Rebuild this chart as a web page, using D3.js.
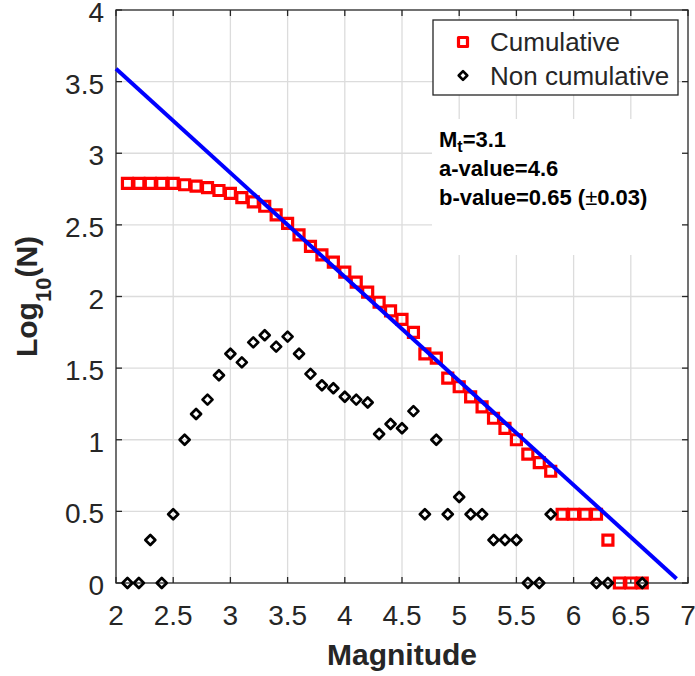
<!DOCTYPE html>
<html>
<head>
<meta charset="utf-8">
<script src="https://cdn.jsdelivr.net/npm/d3@7/dist/d3.min.js"></script>
<style>
  body { margin: 0; background: #fff; }
  svg { display: block; font-family: "Liberation Sans", Arial, Helvetica, sans-serif; }
</style>
</head>
<body>
<svg id="chart" width="695" height="676"></svg>
<script>
// Magnitude bins (Gutenberg-Richter plot)
const cumMag = [2.1, 2.2, 2.3, 2.4, 2.5, 2.6, 2.7, 2.8, 2.9, 3.0, 3.1, 3.2, 3.3, 3.4, 3.5, 3.6,
  3.7, 3.8, 3.9, 4.0, 4.1, 4.2, 4.3, 4.4, 4.5, 4.6, 4.7, 4.8, 4.9, 5.0, 5.1, 5.2, 5.3, 5.4,
  5.5, 5.6, 5.7, 5.8, 5.9, 6.0, 6.1, 6.2, 6.3, 6.4, 6.5, 6.6];
const cumLog = [2.79, 2.79, 2.79, 2.79, 2.79, 2.78, 2.77, 2.76, 2.74, 2.72, 2.69, 2.66, 2.63, 2.57, 2.51, 2.43,
  2.35, 2.29, 2.24, 2.17, 2.10, 2.03, 1.96, 1.90, 1.84, 1.75, 1.60, 1.57, 1.43, 1.37, 1.30, 1.23, 1.15, 1.08,
  1.00, 0.90, 0.84, 0.78, 0.48, 0.48, 0.48, 0.48, 0.30, 0, 0, 0];

const nonCumMag = [2.1, 2.2, 2.3, 2.4, 2.5, 2.6, 2.7, 2.8, 2.9, 3.0, 3.1, 3.2, 3.3, 3.4, 3.5, 3.6,
  3.7, 3.8, 3.9, 4.0, 4.1, 4.2, 4.3, 4.4, 4.5, 4.6, 4.7, 4.8, 4.9, 5.0, 5.1, 5.2, 5.3, 5.4,
  5.5, 5.6, 5.7, 5.8, 6.2, 6.3, 6.6];
const nonCumLog = [0, 0, 0.30, 0, 0.48, 1.00, 1.18, 1.28, 1.45, 1.60, 1.54, 1.68, 1.73, 1.65, 1.72, 1.60,
  1.46, 1.38, 1.36, 1.30, 1.28, 1.26, 1.04, 1.11, 1.08, 1.20, 0.48, 1.00, 0.48, 0.60, 0.48, 0.48, 0.30, 0.30,
  0.30, 0, 0, 0.48, 0, 0, 0];

// Fitted line end points
const fitMag = [2.0, 6.9];
const fitLog = [3.59, 0.03];

const xTicks = [2, 2.5, 3, 3.5, 4, 4.5, 5, 5.5, 6, 6.5, 7];
const yTicks = [0, 0.5, 1, 1.5, 2, 2.5, 3, 3.5, 4];
const legendLabels = ['Cumulative', 'Non cumulative'];

const svg = d3.select('#chart');
const axisColor = '#262626';

const x = d3.scaleLinear().domain([2, 7]).range([116, 688]);
const y = d3.scaleLinear().domain([0, 4]).range([583, 10]);

const [x0, x1] = x.range();
const [y0, y1] = y.range();

// Grid lines
const grid = svg.append('g').attr('stroke', '#dcdcdc').attr('stroke-width', 1.3);
grid.selectAll('.vgrid')
  .data(xTicks.slice(1, -1))
  .enter().append('line')
  .attr('x1', d => x(d)).attr('x2', d => x(d))
  .attr('y1', y0).attr('y2', y1);
grid.selectAll('.hgrid')
  .data(yTicks.slice(1, -1))
  .enter().append('line')
  .attr('x1', x0).attr('x2', x1)
  .attr('y1', d => y(d)).attr('y2', d => y(d));

// White background of the annotation text
svg.append('rect')
  .attr('x', 432).attr('y', 119)
  .attr('width', x1 - 432).attr('height', 136)
  .attr('fill', '#fff');

// Axes box with inward ticks on all four sides
svg.append('rect')
  .attr('x', x0).attr('y', y1)
  .attr('width', x1 - x0).attr('height', y0 - y1)
  .attr('fill', 'none')
  .attr('stroke', axisColor)
  .attr('stroke-width', 1.3);

const tickLen = 6;
const ticks = svg.append('g').attr('stroke', axisColor).attr('stroke-width', 1.3);
xTicks.forEach(t => {
  ticks.append('line').attr('x1', x(t)).attr('x2', x(t)).attr('y1', y0).attr('y2', y0 - tickLen);
  ticks.append('line').attr('x1', x(t)).attr('x2', x(t)).attr('y1', y1).attr('y2', y1 + tickLen);
});
yTicks.forEach(t => {
  ticks.append('line').attr('x1', x0).attr('x2', x0 + tickLen).attr('y1', y(t)).attr('y2', y(t));
  ticks.append('line').attr('x1', x1).attr('x2', x1 - tickLen).attr('y1', y(t)).attr('y2', y(t));
});

// Tick labels
svg.append('g').selectAll('text')
  .data(xTicks)
  .enter().append('text')
  .attr('x', d => x(d))
  .attr('y', 625)
  .attr('text-anchor', 'middle')
  .style('font-size', '28px')
  .attr('fill', axisColor)
  .text(d => d);

svg.append('g').selectAll('text')
  .data(yTicks)
  .enter().append('text')
  .attr('x', 104)
  .attr('y', d => y(d) + 12)
  .attr('text-anchor', 'end')
  .style('font-size', '28px')
  .attr('fill', axisColor)
  .text(d => d);

// Axis labels
svg.append('text')
  .attr('x', (x0 + x1) / 2)
  .attr('y', 665)
  .attr('text-anchor', 'middle')
  .style('font-size', '30px')
  .style('font-weight', 'bold')
  .attr('fill', axisColor)
  .text('Magnitude');

const yLabel = svg.append('text')
  .attr('transform', `translate(37, ${(y0 + y1) / 2}) rotate(-90)`)
  .attr('text-anchor', 'middle')
  .style('font-size', '30px')
  .style('font-weight', 'bold')
  .attr('fill', axisColor);
yLabel.append('tspan').text('Log');
yLabel.append('tspan').attr('dy', 14).style('font-size', '22px').text('10');
yLabel.append('tspan').attr('dy', -14).text('(N)');

// Marker shapes
const squarePath = 'M-5,-5H5V5H-5Z';
const diamondPath = 'M0,-5L5,0L0,5L-5,0Z';

// Cumulative points
svg.append('g').selectAll('path')
  .data(cumMag.map((m, i) => [m, cumLog[i]]))
  .enter().append('path')
  .attr('d', squarePath)
  .attr('transform', d => `translate(${x(d[0])},${y(d[1])})`)
  .attr('fill', 'none')
  .attr('stroke', '#ff0000')
  .attr('stroke-width', 3.2);

// Non cumulative points
svg.append('g').selectAll('path')
  .data(nonCumMag.map((m, i) => [m, nonCumLog[i]]))
  .enter().append('path')
  .attr('d', diamondPath)
  .attr('transform', d => `translate(${x(d[0])},${y(d[1])})`)
  .attr('fill', 'none')
  .attr('stroke', '#000')
  .attr('stroke-width', 2.7)
  .attr('stroke-linejoin', 'round');

// Fitted line
const line = d3.line().x(d => x(d[0])).y(d => y(d[1]));
svg.append('path')
  .datum(fitMag.map((m, i) => [m, fitLog[i]]))
  .attr('d', line)
  .attr('fill', 'none')
  .attr('stroke', '#0000ff')
  .attr('stroke-width', 4);

// Legend
const legend = svg.append('g');
legend.append('rect')
  .attr('x', 433).attr('y', 20)
  .attr('width', 245).attr('height', 75)
  .attr('fill', '#fff')
  .attr('stroke', axisColor)
  .attr('stroke-width', 1.3);

const legendItems = legend.selectAll('.legend-item')
  .data(legendLabels)
  .enter().append('g')
  .attr('class', 'legend-item')
  .attr('transform', (d, i) => `translate(463, ${42 + i * 33.5})`);

legendItems.append('path')
  .attr('d', (d, i) => i === 0 ? 'M-4.5,-4.5H4.5V4.5H-4.5Z' : 'M0,-4.3L4.3,0L0,4.3L-4.3,0Z')
  .attr('fill', 'none')
  .attr('stroke', (d, i) => i === 0 ? '#ff0000' : '#000')
  .attr('stroke-width', (d, i) => i === 0 ? 3.2 : 2.6)
  .attr('stroke-linejoin', 'round');

legendItems.append('text')
  .attr('x', 27)
  .attr('y', 9)
  .style('font-size', '26px')
  .attr('fill', axisColor)
  .text(d => d);

// Annotation text
const note = svg.append('g')
  .style('font-size', '22px')
  .style('font-weight', 'bold')
  .attr('fill', '#000');

const mt = note.append('text').attr('x', 439).attr('y', 147);
mt.append('tspan').text('M');
mt.append('tspan').attr('dy', 5).style('font-size', '16px').text('t');
mt.append('tspan').attr('dy', -5).text('=3.1');

note.append('text').attr('x', 439).attr('y', 176).text('a-value=4.6');

const bv = note.append('text').attr('x', 439).attr('y', 204.5);
bv.append('tspan').text('b-value=0.65 (');
bv.append('tspan').style('font-weight', 'normal').text('\u00b1');
bv.append('tspan').text('0.03)');
</script>
</body>
</html>
